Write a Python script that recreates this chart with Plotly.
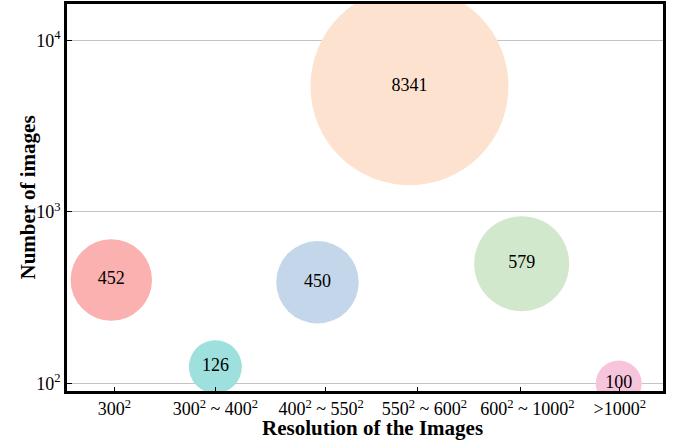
import plotly.graph_objects as go

# ---- data ----
categories = ["300<sup>2</sup>", "300<sup>2</sup> ~ 400<sup>2</sup>", "400<sup>2</sup> ~ 550<sup>2</sup>",
              "550<sup>2</sup> ~ 600<sup>2</sup>", "600<sup>2</sup> ~ 1000<sup>2</sup>", "&gt;1000<sup>2</sup>"]
category_pos = [0, 1, 2.09, 3.0, 4.02, 5]          # tick positions on x axis
counts = [452, 126, 450, 8341, 579, 100]           # bubble labels
bubble_x = [-0.03, 1.0, 2.01, 2.92, 4.03, 4.99]    # bubble centres (x, data units)
bubble_y = [401, 125, 389, 5400, 499, 100]         # bubble centres (y, as drawn)
y_tickvals = [100, 1000, 10000]
y_ticktext = ["10<sup>2</sup>", "10<sup>3</sup>", "10<sup>4</sup>"]
x_title = "Resolution of the Images"
y_title = "Number of images"

# ---- styles ----
colors = ["#FAB1AF", "#9DE0DD", "#C4D6E9", "#FDE2D0", "#D2E8CC", "#F6C5DC"]
diameters = [81.5, 53, 82.5, 198, 95, 46]
FONT = "Liberation Serif, Times New Roman, serif"
NB = "&#160;"
# (leading, trailing) non-breaking spaces to nudge labels off-centre as in the reference
label_pad = [(0, 0), (0, 0), (0, 2), (3, 0), (3, 0), (0, 0)]
tick_labels = [NB * a + c + NB * b for c, (a, b) in zip(categories, label_pad)]

fig = go.Figure()
fig.add_trace(go.Scatter(
    x=bubble_x, y=bubble_y,
    mode="markers+text",
    text=[str(c) for c in counts],
    textposition="middle center",
    textfont=dict(family=FONT, size=18, color="black"),
    marker=dict(size=diameters, color=colors, line=dict(width=0), opacity=1),
    cliponaxis=True,
    hoverinfo="skip",
    showlegend=False,
))

fig.update_layout(
    width=677, height=443,
    margin=dict(l=67, r=14, t=4, b=52),
    paper_bgcolor="white", plot_bgcolor="white",
    font=dict(family=FONT, color="black"),
    xaxis=dict(
        range=[-0.468, 5.428], automargin=False, tickangle=0,
        tickmode="array", tickvals=category_pos, ticktext=tick_labels,
        ticks="inside", ticklen=4, tickwidth=1, tickcolor="black",
        tickfont=dict(family=FONT, size=18, color="black"),
        showgrid=False, zeroline=False,
        showline=True, linecolor="black", linewidth=2.5, mirror=True,
    ),
    yaxis=dict(
        type="log", range=[1.956, 4.212], automargin=False,
        tickmode="array", tickvals=y_tickvals, ticktext=y_ticktext,
        ticks="inside", ticklen=5, tickwidth=1, tickcolor="black",
        tickfont=dict(family=FONT, size=18, color="black"),
        showgrid=True, gridcolor="#C4C4C4", gridwidth=1.3,
        zeroline=False,
        showline=True, linecolor="black", linewidth=2.5, mirror=True,
    ),
    annotations=[
        dict(text="<b>" + x_title + "</b>", xref="paper", yref="paper",
             x=0.5, y=0, xanchor="center", yanchor="middle", yshift=-37, xshift=7,
             showarrow=False, font=dict(family=FONT, size=21, color="black")),
        dict(text="<b>" + y_title + "</b>", xref="paper", yref="paper",
             x=0, y=0.5, xanchor="center", yanchor="middle", xshift=-40, textangle=-90,
             showarrow=False, font=dict(family=FONT, size=21, color="black")),
    ],
)

fig.write_html("out.html", config={"displayModeBar": False},
               post_script="document.body.style.margin='0';document.body.style.overflow='hidden';")
